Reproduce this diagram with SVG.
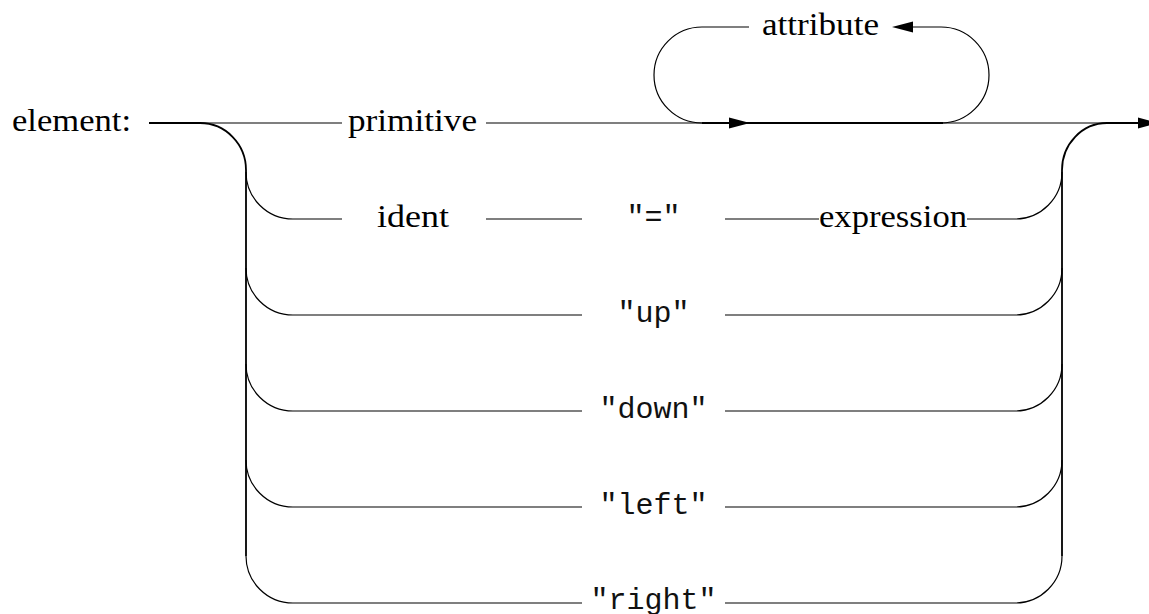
<svg xmlns="http://www.w3.org/2000/svg" width="1149" height="614" viewBox="0 0 1149 614">
<style>
.serif{font-family:"Liberation Serif","Times New Roman",serif;font-size:32px;fill:#000}
.mono{font-family:"Liberation Mono","Courier New",monospace;font-size:30px;fill:#111;text-anchor:middle}
.ln{fill:none;stroke:#000;stroke-width:1.2}
.bd{fill:none;stroke:#000;stroke-width:1.8}
.ah{fill:#000;stroke:none}
</style>
<rect width="1149" height="614" fill="#fff"/>
<g id="connectors">
  <path class="bd" d="M149,123 H200 A46,47 0 0 1 246,170 V556"/>
  <path class="ln" d="M200,123 H342"/>
  <path class="ln" d="M486,123 H1107"/>
  <path class="bd" d="M702,123 H943"/>
  <path class="bd" d="M1062,556 V170 A45,47 0 0 1 1107,123 H1140"/>
  <polygon class="ah" points="1138,117.5 1159,123 1138,128.5"/>
  <path class="ln" d="M749,27 H702 A48,48 0 0 0 702,123"/>
  <path class="ln" d="M941,123 A48,48 0 0 0 941,27 H900"/>
  <polygon class="ah" points="892,27 913,21.5 913,32.5"/>
  <polygon class="ah" points="750,123 729,117.5 729,128.5"/>
  <path class="ln" d="M246,172 A47,47 0 0 0 293,219"/>
  <path class="ln" d="M246,268 A47,47 0 0 0 293,315"/>
  <path class="ln" d="M246,364 A47,47 0 0 0 293,411"/>
  <path class="ln" d="M246,460 A47,47 0 0 0 293,507"/>
  <path class="ln" d="M246,556 A47,47 0 0 0 293,603"/>
  <path class="ln" d="M1015,219 A47,47 0 0 0 1062,172"/>
  <path class="ln" d="M1015,315 A47,47 0 0 0 1062,268"/>
  <path class="ln" d="M1015,411 A47,47 0 0 0 1062,364"/>
  <path class="ln" d="M1015,507 A47,47 0 0 0 1062,460"/>
  <path class="ln" d="M1015,603 A47,47 0 0 0 1062,556"/>
  <path class="ln" d="M293,219 H342 M486,219 H582 M725,219 H819 M967,219 H1015"/>
  <path class="ln" d="M293,315 H582 M725,315 H1015"/>
  <path class="ln" d="M293,411 H582 M725,411 H1015"/>
  <path class="ln" d="M293,507 H582 M725,507 H1015"/>
  <path class="ln" d="M293,603 H582 M725,603 H1015"/>
</g>
<g id="label-element"><text class="serif" x="12" y="131" textLength="119" lengthAdjust="spacingAndGlyphs">element:</text></g>
<g id="node-primitive"><text class="serif" x="348" y="131" textLength="129" lengthAdjust="spacingAndGlyphs">primitive</text></g>
<g id="node-attribute"><text class="serif" x="762" y="35" textLength="117" lengthAdjust="spacingAndGlyphs">attribute</text></g>
<g id="node-ident"><text class="serif" x="377" y="227" textLength="72" lengthAdjust="spacingAndGlyphs">ident</text></g>
<g id="node-eq"><text class="mono" x="653.5" y="226">"="</text></g>
<g id="node-expression"><text class="serif" x="819" y="227" textLength="148" lengthAdjust="spacingAndGlyphs">expression</text></g>
<g id="node-up"><text class="mono" x="653.5" y="322">"up"</text></g>
<g id="node-down"><text class="mono" x="653.5" y="418">"down"</text></g>
<g id="node-left"><text class="mono" x="653.5" y="514">"left"</text></g>
<g id="node-right"><text class="mono" x="653.5" y="609">"right"</text></g>
</svg>
